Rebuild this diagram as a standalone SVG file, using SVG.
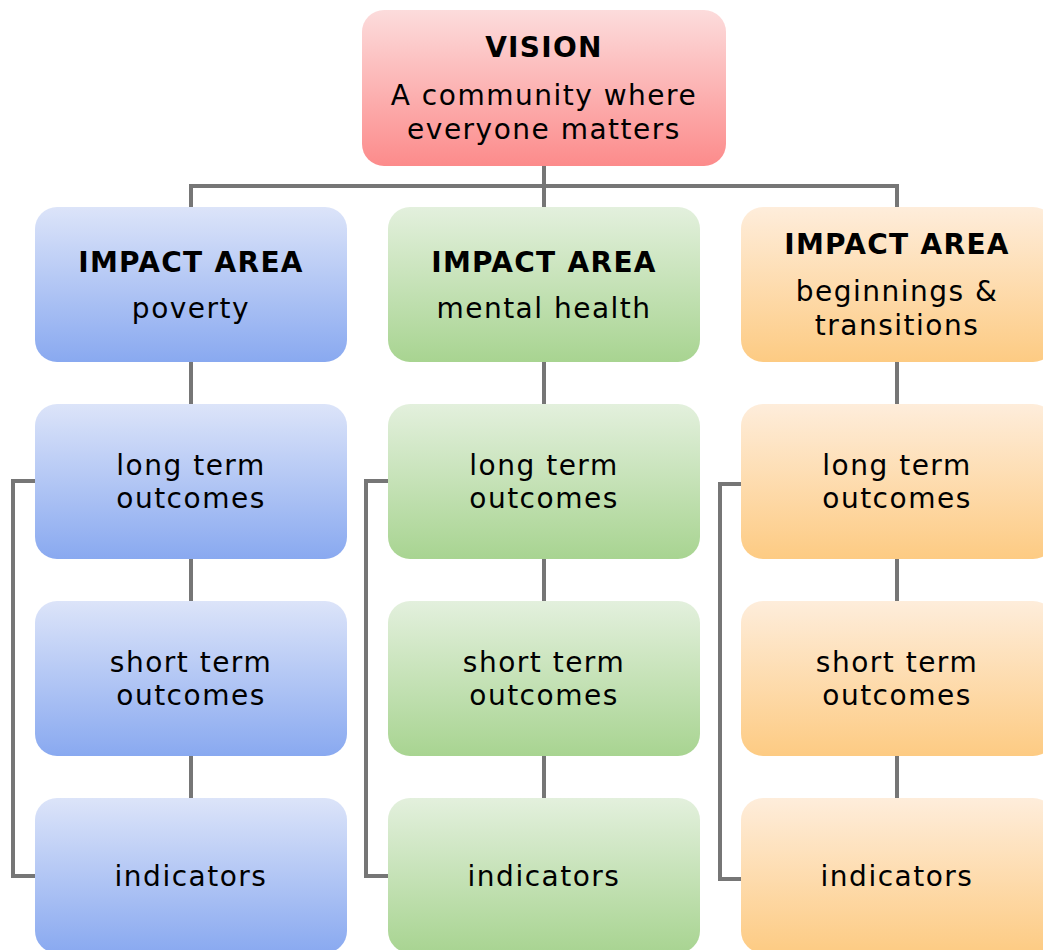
<svg xmlns="http://www.w3.org/2000/svg" width="1043" height="950" viewBox="0 0 1043 950">
<style>
text{font-family:"DejaVu Sans","Liberation Sans",sans-serif;font-size:28px;letter-spacing:1.5px;fill:#000;text-anchor:middle}
.b{font-weight:bold;letter-spacing:1.3px}
.con{fill:none;stroke:#767676;stroke-width:4}
</style>
<defs>
<linearGradient id="gr" x1="0" y1="0" x2="0" y2="1"><stop offset="0" stop-color="#fcdcdc"/><stop offset="1" stop-color="#fc8b8b"/></linearGradient>
<linearGradient id="gb" x1="0" y1="0" x2="0" y2="1"><stop offset="0" stop-color="#dce4f9"/><stop offset="1" stop-color="#89a9f0"/></linearGradient>
<linearGradient id="gg" x1="0" y1="0" x2="0" y2="1"><stop offset="0" stop-color="#e3f0dd"/><stop offset="1" stop-color="#a8d491"/></linearGradient>
<linearGradient id="go" x1="0" y1="0" x2="0" y2="1"><stop offset="0" stop-color="#feeddb"/><stop offset="1" stop-color="#fdcb83"/></linearGradient>
</defs>
<rect width="1043" height="950" fill="#fff"/>
<g id="connectors">
<path class="con" d="M544 166V207M191 207V186H897V207"/>
<path class="con" d="M191 362V404M191 559V601M191 756V798"/>
<path class="con" d="M544 362V404M544 559V601M544 756V798"/>
<path class="con" d="M897 362V404M897 559V601M897 756V798"/>
<path class="con" d="M35 481H13V876H35"/>
<path class="con" d="M388 481H366V876H388"/>
<path class="con" d="M741 484H720V879H741"/>
</g>
<g id="vision"><rect x="362" y="10" width="364" height="156" rx="22" fill="url(#gr)"/><text x="544" y="57" class="b">VISION</text><text x="544" y="105">A community where</text><text x="544" y="139">everyone matters</text></g>
<g id="impact-poverty"><rect x="35" y="207" width="312" height="155" rx="22" fill="url(#gb)"/><text x="191" y="272" class="b">IMPACT AREA</text><text x="191" y="318">poverty</text></g>
<g id="impact-mental"><rect x="388" y="207" width="312" height="155" rx="22" fill="url(#gg)"/><text x="544" y="272" class="b">IMPACT AREA</text><text x="544" y="318">mental health</text></g>
<g id="impact-beginnings"><rect x="741" y="207" width="314" height="155" rx="22" fill="url(#go)"/><text x="897" y="254" class="b">IMPACT AREA</text><text x="897" y="301">beginnings &amp;</text><text x="897" y="335">transitions</text></g>
<g id="lt-poverty"><rect x="35" y="404" width="312" height="155" rx="22" fill="url(#gb)"/><text x="191" y="475">long term</text><text x="191" y="508">outcomes</text></g>
<g id="lt-mental"><rect x="388" y="404" width="312" height="155" rx="22" fill="url(#gg)"/><text x="544" y="475">long term</text><text x="544" y="508">outcomes</text></g>
<g id="lt-beginnings"><rect x="741" y="404" width="314" height="155" rx="22" fill="url(#go)"/><text x="897" y="475">long term</text><text x="897" y="508">outcomes</text></g>
<g id="st-poverty"><rect x="35" y="601" width="312" height="155" rx="22" fill="url(#gb)"/><text x="191" y="672">short term</text><text x="191" y="705">outcomes</text></g>
<g id="st-mental"><rect x="388" y="601" width="312" height="155" rx="22" fill="url(#gg)"/><text x="544" y="672">short term</text><text x="544" y="705">outcomes</text></g>
<g id="st-beginnings"><rect x="741" y="601" width="314" height="155" rx="22" fill="url(#go)"/><text x="897" y="672">short term</text><text x="897" y="705">outcomes</text></g>
<g id="ind-poverty"><rect x="35" y="798" width="312" height="155" rx="22" fill="url(#gb)"/><text x="191" y="886">indicators</text></g>
<g id="ind-mental"><rect x="388" y="798" width="312" height="155" rx="22" fill="url(#gg)"/><text x="544" y="886">indicators</text></g>
<g id="ind-beginnings"><rect x="741" y="798" width="314" height="155" rx="22" fill="url(#go)"/><text x="897" y="886">indicators</text></g>
</svg>
